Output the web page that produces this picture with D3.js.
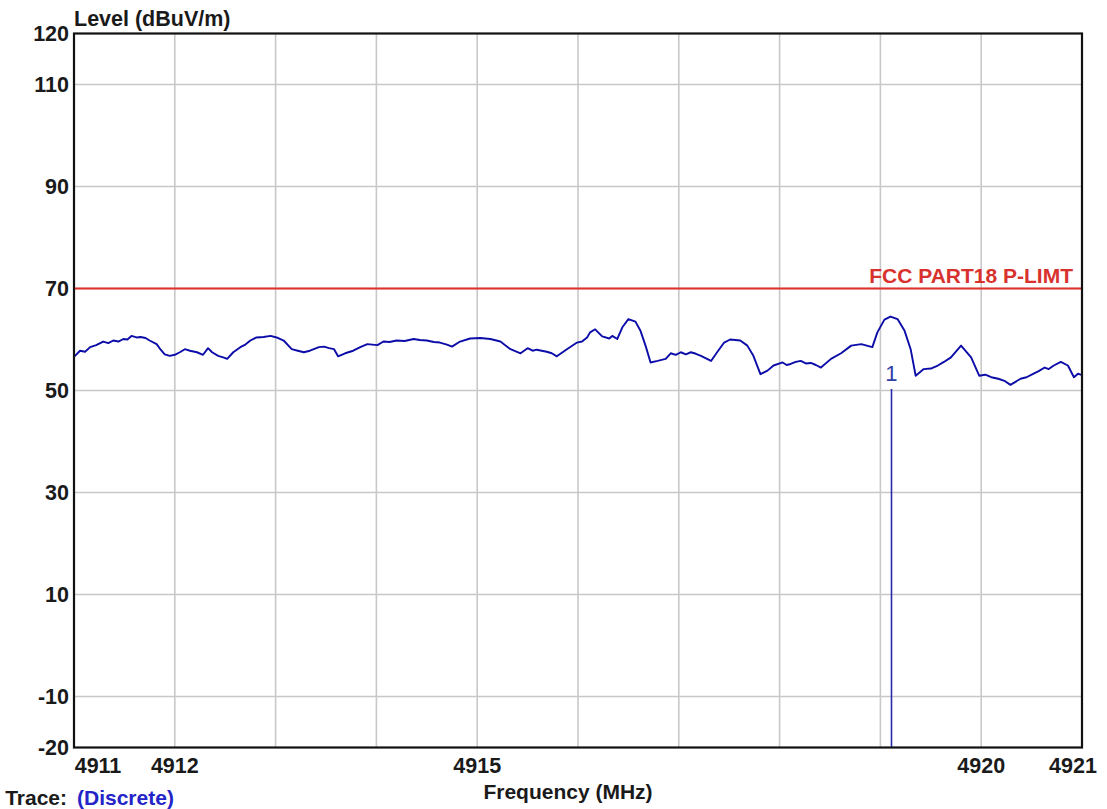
<!DOCTYPE html>
<html>
<head>
<meta charset="utf-8">
<script src="https://cdn.jsdelivr.net/npm/d3@7"></script>
<style>
  html, body { margin: 0; padding: 0; background: #fff; }
  svg { display: block; }
  text { font-family: "Liberation Sans", Arial, sans-serif; }
</style>
</head>
<body>
<script>
// ---------- data ----------
const xDomain = [4911, 4921];
const yDomain = [-20, 120];
const xTickLabels = [4911, 4912, 4915, 4920, 4921];
const xGridValues = [4912, 4913, 4914, 4915, 4916, 4917, 4918, 4919, 4920];
const yTickLabels = [120, 110, 90, 70, 50, 30, 10, -10, -20];
const yGridValues = [110, 90, 70, 50, 30, 10, -10];

const limitName = "FCC PART18 P-LIMT";
const limitLevel = 70;

const markerFreq = 4919.11;
const markerLevel = 50.3;
const markerLabel = "1";

// trace: [frequency MHz, level dBuV/m]
const traceFreq = [
  4911.00, 4911.01, 4911.06, 4911.11, 4911.16, 4911.22, 4911.29, 4911.34, 4911.39, 4911.44, 4911.49, 4911.53,
  4911.57, 4911.62, 4911.66, 4911.71, 4911.75, 4911.82, 4911.86, 4911.90, 4911.95, 4912.00, 4912.05, 4912.10,
  4912.15, 4912.22, 4912.28, 4912.33, 4912.37, 4912.43, 4912.48, 4912.52, 4912.58, 4912.65, 4912.70, 4912.75,
  4912.81, 4912.88, 4912.95, 4913.01, 4913.08, 4913.16, 4913.22, 4913.28, 4913.34, 4913.43, 4913.48, 4913.53,
  4913.58, 4913.62, 4913.69, 4913.77, 4913.84, 4913.91, 4914.01, 4914.07, 4914.13, 4914.20, 4914.28, 4914.37,
  4914.43, 4914.50, 4914.57, 4914.63, 4914.70, 4914.75, 4914.83, 4914.93, 4915.03, 4915.13, 4915.23, 4915.33,
  4915.43, 4915.50, 4915.55, 4915.59, 4915.69, 4915.74, 4915.79, 4915.84, 4915.89, 4915.99, 4916.04, 4916.09,
  4916.12, 4916.17, 4916.24, 4916.31, 4916.34, 4916.39, 4916.44, 4916.50, 4916.57, 4916.62, 4916.67, 4916.72,
  4916.79, 4916.87, 4916.92, 4916.97, 4917.02, 4917.07, 4917.12, 4917.17, 4917.22, 4917.32, 4917.38, 4917.45,
  4917.51, 4917.61, 4917.68, 4917.74, 4917.81, 4917.88, 4917.94, 4918.03, 4918.07, 4918.11, 4918.16, 4918.21,
  4918.26, 4918.31, 4918.36, 4918.41, 4918.51, 4918.61, 4918.71, 4918.81, 4918.92, 4918.97, 4919.04, 4919.10,
  4919.17, 4919.24, 4919.30, 4919.35, 4919.43, 4919.50, 4919.57, 4919.63, 4919.70, 4919.80, 4919.90, 4919.98,
  4920.04, 4920.10, 4920.17, 4920.23, 4920.29, 4920.34, 4920.39, 4920.45, 4920.51, 4920.57, 4920.63, 4920.67,
  4920.72, 4920.79, 4920.86, 4920.92, 4920.96, 4921.00
];
const traceLevel = [
  56.6, 56.8, 57.8, 57.6, 58.5, 58.9, 59.6, 59.3, 59.8, 59.6, 60.1, 60.0,
  60.7, 60.4, 60.5, 60.3, 59.8, 59.1, 58.0, 57.1, 56.8, 57.0, 57.5, 58.1,
  57.8, 57.5, 57.0, 58.3, 57.5, 56.8, 56.5, 56.2, 57.5, 58.5, 59.0, 59.8,
  60.4, 60.5, 60.7, 60.4, 59.8, 58.1, 57.8, 57.5, 57.8, 58.5, 58.6, 58.3,
  58.1, 56.7, 57.3, 57.8, 58.5, 59.1, 58.9, 59.6, 59.5, 59.8, 59.7, 60.1,
  59.9, 59.8, 59.5, 59.4, 59.0, 58.6, 59.6, 60.2, 60.3, 60.1, 59.6, 58.1,
  57.3, 58.3, 57.8, 58.0, 57.6, 57.3, 56.7, 57.4, 58.1, 59.4, 59.6, 60.4,
  61.4, 62.0, 60.6, 60.2, 60.7, 60.1, 62.4, 64.0, 63.5, 61.7, 58.8, 55.5,
  55.8, 56.2, 57.3, 57.0, 57.5, 57.1, 57.5, 57.2, 56.8, 55.8, 57.5, 59.4,
  60.0, 59.8, 58.8, 56.8, 53.2, 53.9, 54.9, 55.5, 55.0, 55.2, 55.6, 55.8,
  55.3, 55.4, 55.0, 54.5, 56.2, 57.3, 58.8, 59.1, 58.5, 61.4, 63.9, 64.5,
  64.0, 61.7, 58.1, 52.9, 54.2, 54.3, 54.9, 55.6, 56.5, 58.8, 56.5, 52.9,
  53.1, 52.6, 52.3, 51.9, 51.1, 51.7, 52.3, 52.6, 53.2, 53.8, 54.5, 54.2,
  54.9, 55.6, 54.9, 52.6, 53.3, 53.0
];

// ---------- layout ----------
const W = 1107, H = 809;
const plot = { left: 74, right: 1082, top: 33.5, bottom: 747.5 };
const FONT = "\"Liberation Sans\", Arial, sans-serif";

const svg = d3.select("body").append("svg")
  .attr("width", W).attr("height", H)
  .style("background", "#fff");

const x = d3.scaleLinear().domain(xDomain).range([plot.left, plot.right]);
const y = d3.scaleLinear().domain(yDomain).range([plot.bottom, plot.top]);

// grid
const grid = svg.append("g");
grid.selectAll("line.vg").data(xGridValues).join("line")
  .attr("class", "vg")
  .attr("x1", d => x(d)).attr("x2", d => x(d))
  .attr("y1", plot.top).attr("y2", plot.bottom)
  .attr("stroke", "#c8c8c8").attr("stroke-width", 1.6);
grid.selectAll("line.hg").data(yGridValues).join("line")
  .attr("class", "hg")
  .attr("x1", plot.left).attr("x2", plot.right)
  .attr("y1", d => y(d)).attr("y2", d => y(d))
  .attr("stroke", "#c8c8c8").attr("stroke-width", 1.6);

// limit line
svg.append("line")
  .attr("x1", plot.left).attr("x2", plot.right)
  .attr("y1", y(limitLevel)).attr("y2", y(limitLevel))
  .attr("stroke", "#e0302c").attr("stroke-width", 1.8);
svg.append("text")
  .attr("x", plot.right - 9).attr("y", y(limitLevel) - 6)
  .attr("text-anchor", "end")
  .attr("font-family", FONT).attr("font-weight", "bold").attr("font-size", 21)
  .attr("fill", "#d8322e")
  .text(limitName);

// trace
const traceData = traceFreq.map((f, i) => [f, traceLevel[i]]);
svg.append("path")
  .datum(traceData)
  .attr("fill", "none")
  .attr("stroke", "#0c0ca8")
  .attr("stroke-width", 1.9)
  .attr("stroke-linejoin", "round")
  .attr("d", d3.line().x(d => x(d[0])).y(d => y(d[1])).curve(d3.curveLinear));

// marker
svg.append("line")
  .attr("x1", x(markerFreq)).attr("x2", x(markerFreq))
  .attr("y1", y(markerLevel)).attr("y2", plot.bottom)
  .attr("stroke", "#2a2ab0").attr("stroke-width", 1.6);
svg.append("text")
  .attr("x", x(markerFreq)).attr("y", y(markerLevel) - 8)
  .attr("text-anchor", "middle")
  .attr("font-family", FONT).attr("font-size", 22)
  .attr("fill", "#3040a8")
  .text(markerLabel);

// frame
svg.append("rect")
  .attr("x", plot.left).attr("y", plot.top)
  .attr("width", plot.right - plot.left).attr("height", plot.bottom - plot.top)
  .attr("fill", "none").attr("stroke", "#111").attr("stroke-width", 2.2);

// y tick labels
svg.append("g").selectAll("text").data(yTickLabels).join("text")
  .attr("x", plot.left - 5).attr("y", d => y(d))
  .attr("dy", "0.35em")
  .attr("text-anchor", "end")
  .attr("font-family", FONT).attr("font-weight", "bold").attr("font-size", 21.5)
  .attr("fill", "#1a1a1a")
  .text(d => d);

// x tick labels (clamped inside the frame ends)
svg.append("g").selectAll("text").data(xTickLabels).join("text")
  .attr("x", d => Math.min(Math.max(x(d), plot.left + 24), plot.right - 9))
  .attr("y", plot.bottom + 25)
  .attr("text-anchor", "middle")
  .attr("font-family", FONT).attr("font-weight", "bold").attr("font-size", 21.5)
  .attr("fill", "#1a1a1a")
  .text(d => d);

// axis titles
svg.append("text")
  .attr("x", plot.left).attr("y", 26)
  .attr("font-family", FONT).attr("font-weight", "bold").attr("font-size", 21.5)
  .attr("fill", "#1a1a1a")
  .text("Level (dBuV/m)");
svg.append("text")
  .attr("x", 568).attr("y", 799)
  .attr("text-anchor", "middle")
  .attr("font-family", FONT).attr("font-weight", "bold").attr("font-size", 21)
  .attr("fill", "#1a1a1a")
  .text("Frequency (MHz)");

// trace caption
svg.append("text")
  .attr("x", 67).attr("y", 805)
  .attr("text-anchor", "end")
  .attr("font-family", FONT).attr("font-weight", "bold").attr("font-size", 21)
  .attr("fill", "#1a1a1a")
  .text("Trace:");
svg.append("text")
  .attr("x", 77).attr("y", 805)
  .attr("font-family", FONT).attr("font-weight", "bold").attr("font-size", 21)
  .attr("fill", "#2424c8")
  .text("(Discrete)");
</script>
</body>
</html>
